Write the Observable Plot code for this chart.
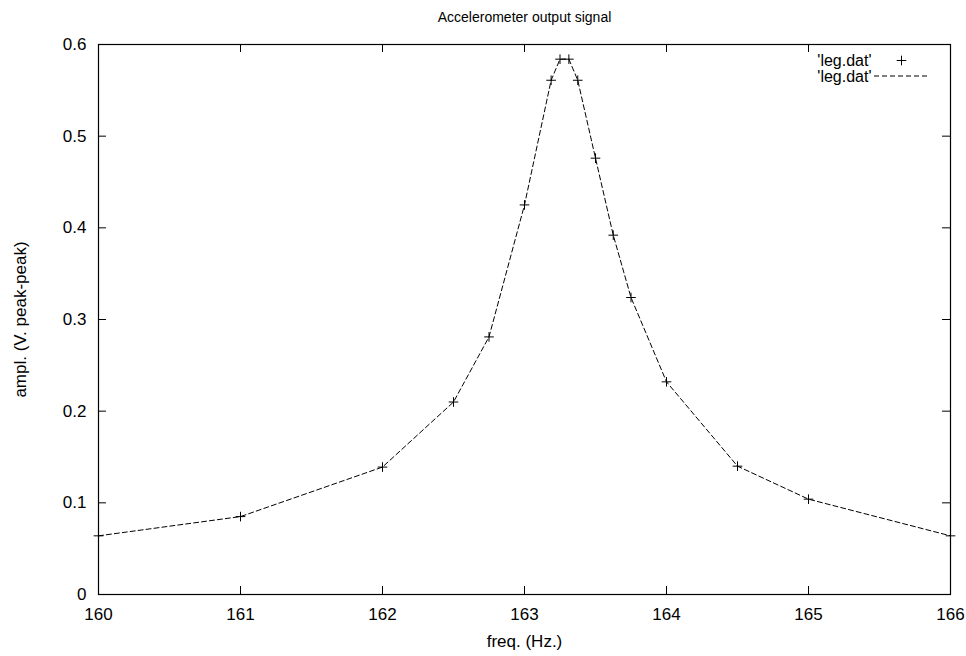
<!DOCTYPE html>
<html>
<head>
<meta charset="utf-8">
<script src="https://cdn.jsdelivr.net/npm/d3@7"></script>
<script src="https://cdn.jsdelivr.net/npm/@observablehq/plot@0.6"></script>
<style>
  html, body { margin: 0; padding: 0; background: #fff; }
</style>
</head>
<body>
<div id="chart"></div>
<script>
// ---- data ----
const freq = [160, 161, 162, 162.5, 162.75, 163, 163.1875, 163.25, 163.3125, 163.375, 163.5, 163.625, 163.75, 164, 164.5, 165, 166];
const ampl = [0.064, 0.085, 0.139, 0.210, 0.281, 0.425, 0.561, 0.584, 0.584, 0.561, 0.476, 0.392, 0.324, 0.232, 0.140, 0.104, 0.064];
const xTicks = [160, 161, 162, 163, 164, 165, 166];
const xTickLabels = ["160", "161", "162", "163", "164", "165", "166"];
const yTicks = [0, 0.1, 0.2, 0.3, 0.4, 0.5, 0.6];
const yTickLabels = ["0", "0.1", "0.2", "0.3", "0.4", "0.5", "0.6"];
const title = "Accelerometer output signal";
const xLabel = "freq. (Hz.)";
const yLabel = "ampl. (V. peak-peak)";
const legendLabels = ["'leg.dat'", "'leg.dat'"];

const rows = freq.map((f, i) => ({f, a: ampl[i]}));

const W = 966, H = 656;
const mL = 98, mR = 16, mT = 44, mB = 62;
const plotW = W - mL - mR, plotH = H - mT - mB;
const tickLen = 8;

const plot = Plot.plot({
  width: W,
  height: H,
  marginLeft: mL,
  marginRight: mR,
  marginTop: mT,
  marginBottom: mB,
  style: {fontFamily: "'Liberation Sans', Arial, Helvetica, sans-serif", fontSize: "17px", color: "#000", background: "#fff"},
  x: {domain: [160, 166]},
  y: {domain: [0, 0.6]},
  marks: [
    // tick labels
    Plot.axisX(xTicks, {tickSize: 0, tickPadding: 13, label: null, fill: "#000",
      tickFormat: d => xTickLabels[xTicks.indexOf(d)]}),
    Plot.axisY(yTicks, {tickSize: 0, tickPadding: 12, label: null, fill: "#000",
      tickFormat: d => yTickLabels[yTicks.indexOf(d)]}),
    // inward ticks, mirrored on all four sides
    Plot.tickX(xTicks, {x: d => d, insetTop: plotH - tickLen, stroke: "#000"}),
    Plot.tickX(xTicks, {x: d => d, insetBottom: plotH - tickLen, stroke: "#000"}),
    Plot.tickY(yTicks, {y: d => d, insetRight: plotW - tickLen, stroke: "#000"}),
    Plot.tickY(yTicks, {y: d => d, insetLeft: plotW - tickLen, stroke: "#000"}),
    Plot.frame({stroke: "#000", strokeWidth: 1.2}),
    // data
    Plot.line(rows, {x: "f", y: "a", stroke: "#000", strokeWidth: 1, strokeDasharray: "5,3"}),
    Plot.dot(rows, {x: "f", y: "a", symbol: "plus", r: 3.2, stroke: "#000", strokeWidth: 1}),
    // titles
    Plot.text([title], {frameAnchor: "top", dy: -27, lineAnchor: "middle", textAnchor: "middle", fill: "#000", fontSize: 14}),
    Plot.text([xLabel], {frameAnchor: "bottom", dy: 47, lineAnchor: "middle", textAnchor: "middle", fill: "#000"}),
    Plot.text([yLabel], {frameAnchor: "left", dx: -78, rotate: -90, lineAnchor: "middle", textAnchor: "middle", fill: "#000"}),
    // legend
    Plot.text([legendLabels[0]], {frameAnchor: "top-right", dx: -79, dy: 16, lineAnchor: "middle", textAnchor: "end", fill: "#000", fontSize: 16}),
    Plot.text([legendLabels[1]], {frameAnchor: "top-right", dx: -79, dy: 32, lineAnchor: "middle", textAnchor: "end", fill: "#000", fontSize: 16}),
    Plot.dot([0], {frameAnchor: "top-right", dx: -49, dy: 16, symbol: "plus", r: 3.2, stroke: "#000", strokeWidth: 1})
  ]
});

// dashed legend sample line
d3.select(plot).append("line")
  .attr("x1", W - mR - 76).attr("x2", W - mR - 23)
  .attr("y1", mT + 32).attr("y2", mT + 32)
  .attr("stroke", "#000").attr("stroke-width", 1).attr("stroke-dasharray", "5,3");

document.getElementById("chart").appendChild(plot);
</script>
</body>
</html>
